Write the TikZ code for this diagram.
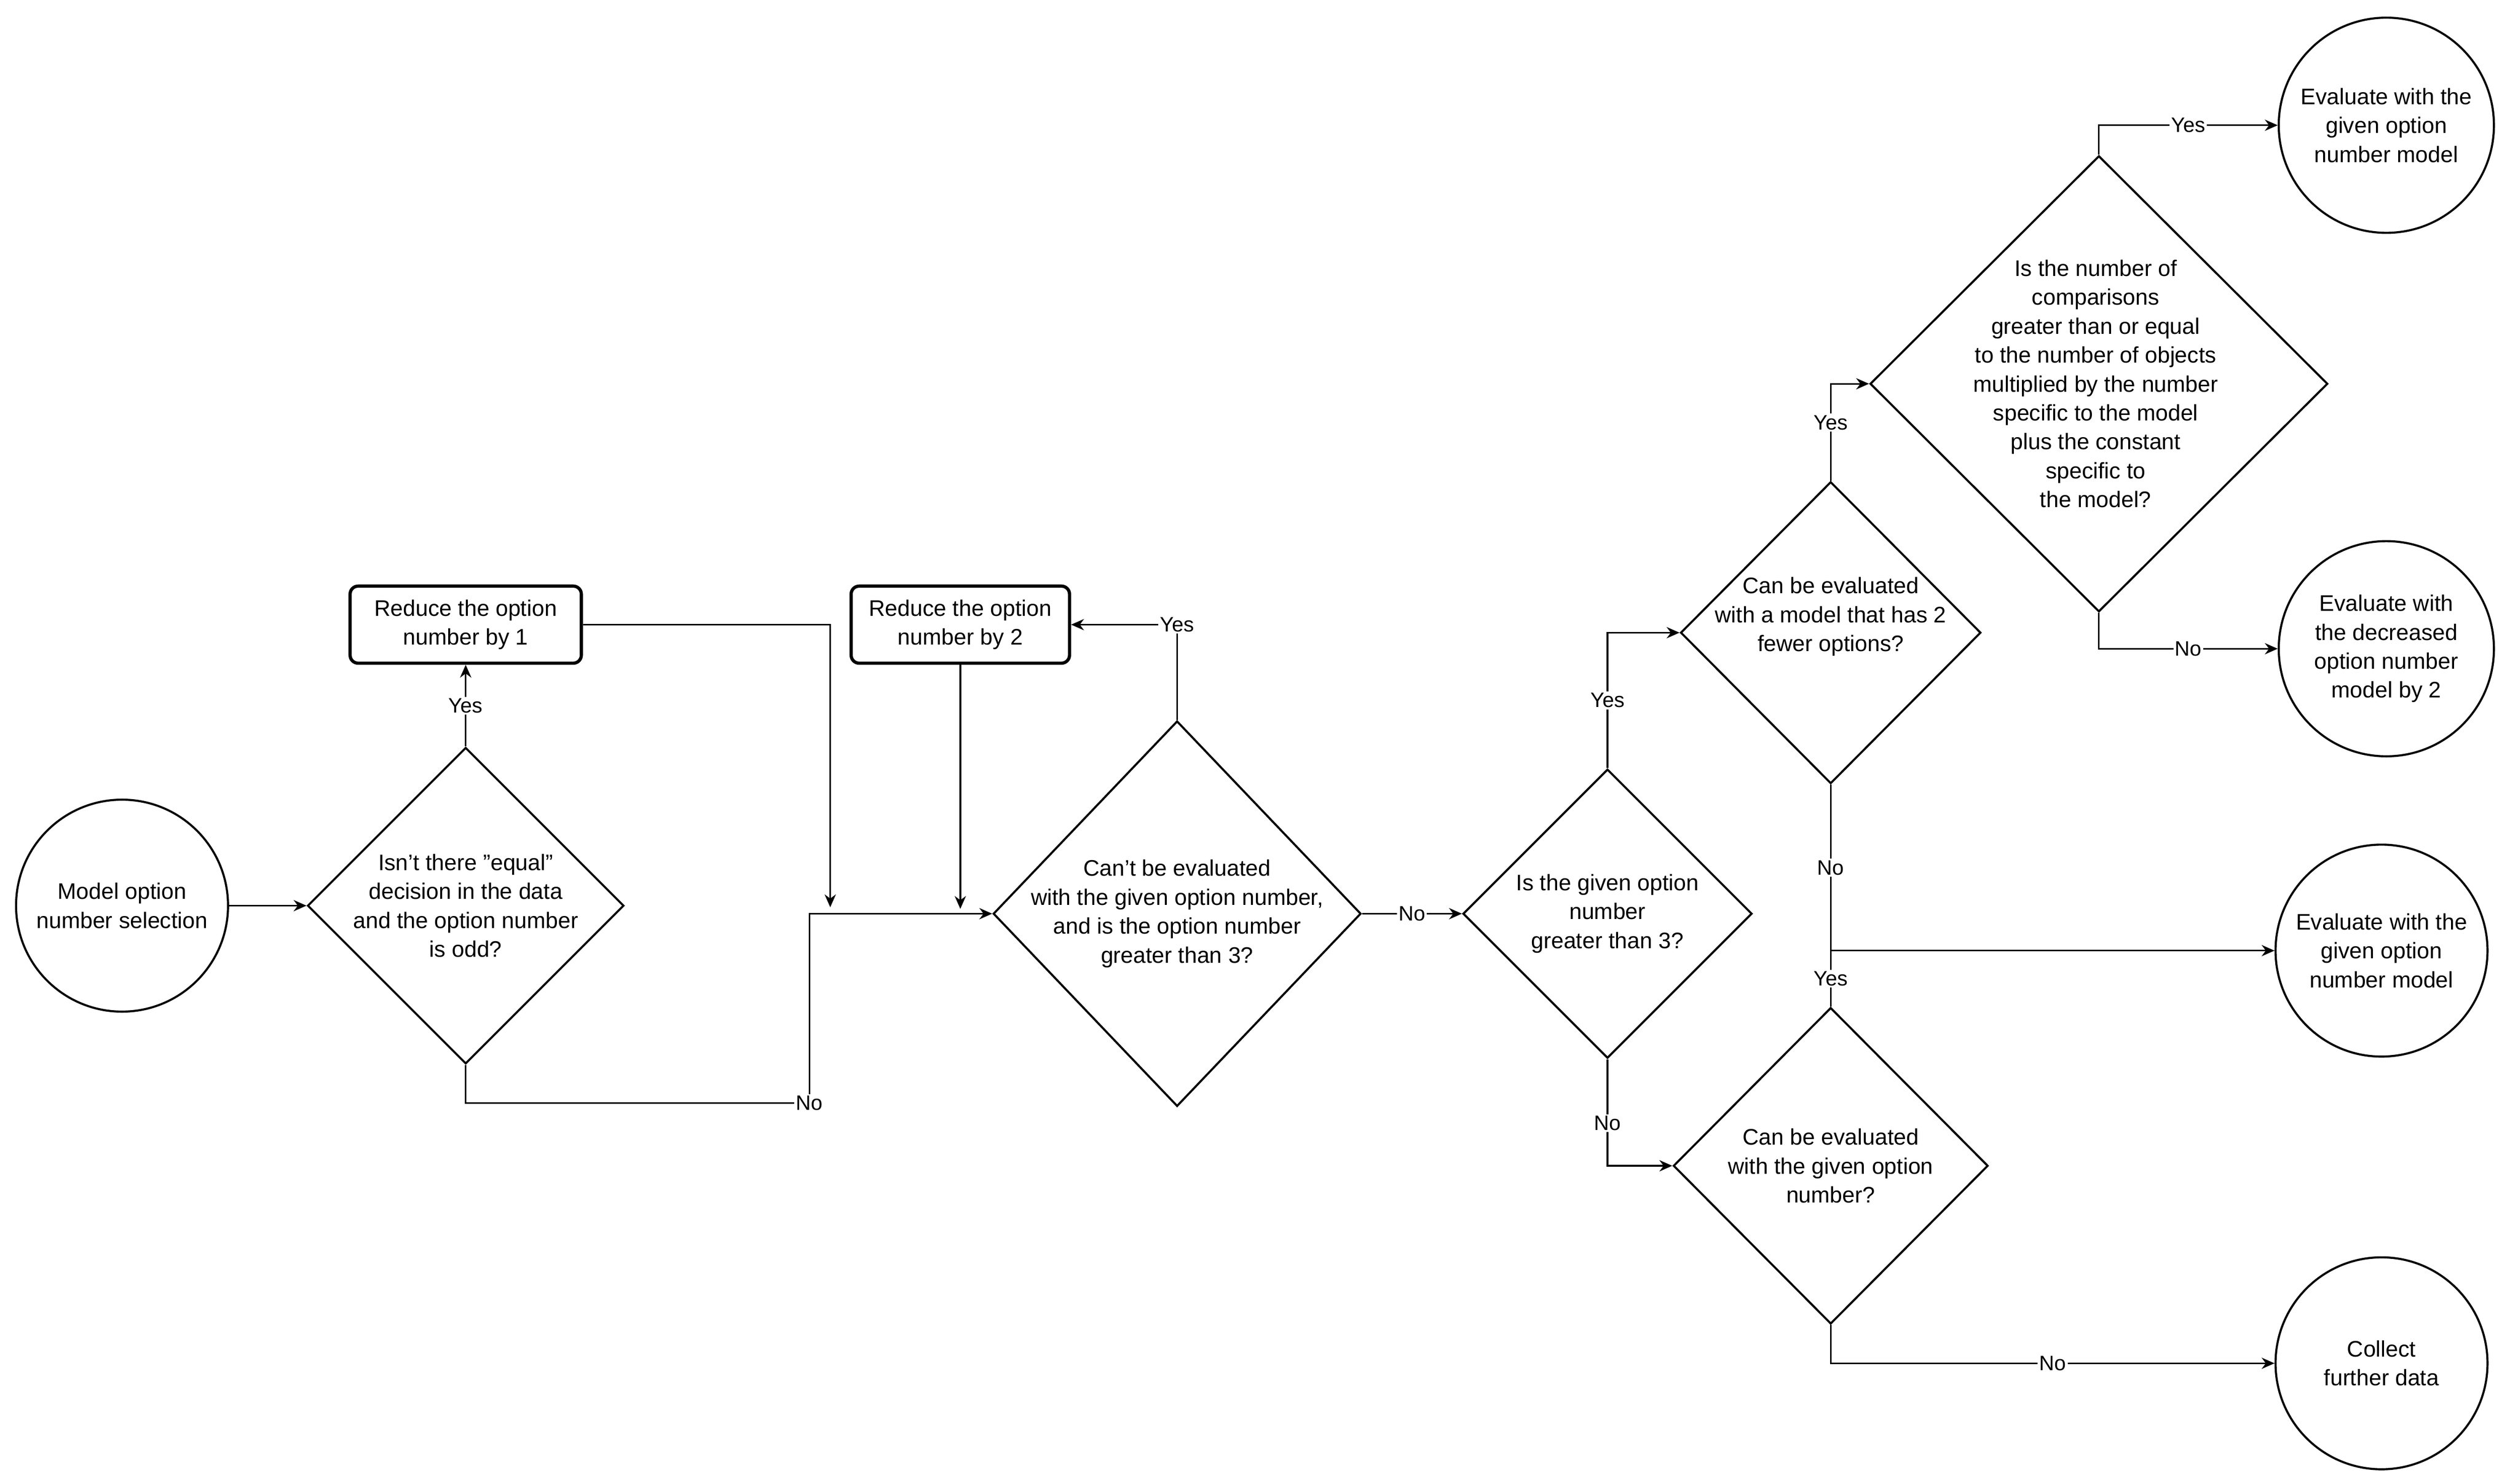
\documentclass[tikz,border=0pt]{standalone}
\usepackage{fontspec}
\setmainfont{Liberation Sans}
\usetikzlibrary{shapes.geometric,arrows.meta}
\begin{document}
\begin{tikzpicture}[x=1pt,y=-1pt,
  every node/.style={font=\fontsize{14}{18}\selectfont},
  ln/.style={draw=black,line width=1.3pt},
  dia/.style={ln,diamond,inner sep=0pt,minimum width=#1},
  circ/.style={ln,circle,inner sep=0pt,minimum size=#1,align=center},
  box/.style={draw=black,line width=2pt,rounded corners=5pt,minimum width=144,minimum height=48,align=center},
  txt/.style={align=center},
  arr/.style={draw=black,line width=1pt,-{Stealth[length=8pt,width=7pt]}},
  lab/.style={fill=white,inner sep=1pt,font=\fontsize{13}{15}\selectfont}]
\useasboundingbox (0,0) rectangle (1568,924);
\node[circ=132] (A) at (76,564) {Model option\\number selection};
\node[box] (R1) at (290,389) {Reduce the option\\number by 1};
\node[box,minimum width=136] (R2) at (598,389) {Reduce the option\\number by 2};
\node[dia=197,minimum height=197] (D1) at (290,564) {};
\node[txt] (T1) at (290,564) {Isn't there "equal"\\decision in the data\\and the option number\\is odd?};
\node[dia=229,minimum height=240,aspect=0.95] (D2) at (733,569) {};
\node[txt] (T2) at (733,569) {Can't be evaluated\\with the given option number,\\and is the option number\\greater than 3?};
\node[dia=180,minimum height=180] (D3) at (1001,569) {};
\node[txt] (T3) at (1001,569) {Is the given option\\number\\greater than 3?};
\node[dia=187,minimum height=188] (D4) at (1140,394) {};
\node[txt] (T4) at (1140,384) {Can be evaluated\\with a model that has 2\\fewer options?};
\node[dia=285,minimum height=284] (D5) at (1307,239) {};
\node[txt] (T5) at (1305,239) {Is the number of\\comparisons\\greater than or equal\\to the number of objects\\multiplied by the number\\specific to the model\\plus the constant\\specific to\\the model?};
\node[dia=196,minimum height=197] (D6) at (1140,726) {};
\node[txt] (T6) at (1140,726) {Can be evaluated\\with the given option\\number?};
\node[circ=134] (E1) at (1486,78) {Evaluate with the\\given option\\number model};
\node[circ=134] (E2) at (1486,404) {Evaluate with\\the decreased\\option number\\model by 2};
\node[circ=132] (E3) at (1483,592) {Evaluate with the\\given option\\number model};
\node[circ=132] (E4) at (1483,849) {Collect\\further data};
\coordinate (J1) at (517,569);
\coordinate (J2) at (598,569);
\coordinate (J3) at (1140,592);
% connectors
\draw[arr] (A.east) -- (D1.west);
\draw[arr] (D1.north) -- node[lab,pos=0.5]{Yes} (R1.south);
\draw[arr] (D1.south) |- (504,687) node[lab]{No} -- (504,569) -- (D2.west);
\draw[arr] (R1.east) -| (517,565);
\draw[arr] (R2.south) -- (598,566);
\draw[arr] (D2.north) |- node[lab,pos=0.5]{Yes} (R2.east);
\draw[arr] (D2.east) -- node[lab,pos=0.5]{No} (D3.west);
\draw[arr] (D3.north) |- node[lab,pos=0.25]{Yes} (D4.west);
\draw[arr] (D3.south) |- node[lab,pos=0.3]{No} (D6.west);
\draw[arr] (D4.north) |- node[lab,pos=0.3]{Yes} (D5.west);
\draw[ln,line width=1pt] (D4.south) -- node[lab,pos=0.5]{No} (J3);
\draw[arr] (D6.north) -- node[lab,pos=0.5]{Yes} (J3) -- (E3.west);
\draw[arr] (D5.north) |- node[lab,pos=0.75]{Yes} (E1.west);
\draw[arr] (D5.south) |- node[lab,pos=0.75]{No} (E2.west);
\draw[arr] (D6.south) |- node[lab,pos=0.75]{No} (E4.west);
\end{tikzpicture}
\end{document}
